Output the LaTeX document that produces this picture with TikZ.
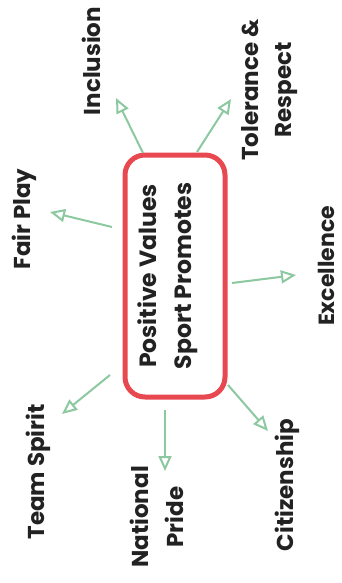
\documentclass[tikz,border=0pt]{standalone}
\usepackage{fontspec}
\setmainfont{Poppins}
\usetikzlibrary{arrows.meta}
\definecolor{boxred}{HTML}{E8484F}
\definecolor{arrgreen}{HTML}{8CC8A0}
\definecolor{txt}{HTML}{222222}
\begin{document}
\begin{tikzpicture}[x=1pt,y=-1pt,
  lbl/.style={rotate=90,font=\bfseries\fontsize{23}{33}\selectfont,text=txt,align=center,inner sep=0pt},
  conn/.style={draw=arrgreen,line width=2pt,-{Triangle[open,length=15pt,width=13pt,line width=2pt]}}]
\useasboundingbox (0,0) rectangle (342,583);
\fill[white] (0,0) rectangle (342,583);
\draw[boxred,line width=5pt,rounded corners=20pt] (125,155) rectangle (225,397);
\node[lbl,font=\bfseries\fontsize{23.5}{35}\selectfont] (c) at (168,276) {Positive Values\\Sport Promotes};
\node[lbl] (inc) at (91,61) {Inclusion};
\node[lbl] (tol) at (270,90) {Tolerance \&\\Respect};
\node[lbl] (fair) at (24,219) {Fair Play};
\node[lbl,font=\bfseries\fontsize{22}{33}\selectfont] (exc) at (326,266) {Excellence};
\node[lbl] (team) at (38,472) {Team Spirit};
\node[lbl,font=\bfseries\fontsize{23}{35}\selectfont] (nat) at (157,517) {National\\Pride};
\node[lbl] (cit) at (287,485) {Citizenship};
\coordinate (s1) at (143,153); \coordinate (e1) at (116,98);
\coordinate (s2) at (197,152); \coordinate (e2) at (231,99);
\coordinate (s3) at (112,227); \coordinate (e3) at (50,212);
\coordinate (s4) at (232,283); \coordinate (e4) at (296,275);
\coordinate (s5) at (110,375); \coordinate (e5) at (62,414);
\coordinate (s6) at (165,410); \coordinate (e6) at (165,471);
\coordinate (s7) at (228,385); \coordinate (e7) at (268,431);
\draw[conn] (s1) -- (e1);
\draw[conn] (s2) -- (e2);
\draw[conn] (s3) -- (e3);
\draw[conn] (s4) -- (e4);
\draw[conn] (s5) -- (e5);
\draw[conn] (s6) -- (e6);
\draw[conn] (s7) -- (e7);
\end{tikzpicture}
\end{document}
